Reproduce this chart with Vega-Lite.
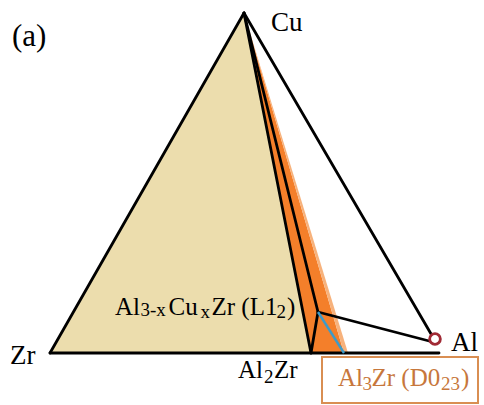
{
  "$schema": "https://vega.github.io/schema/vega-lite/v6.json",
  "width": 484,
  "height": 405,
  "autosize": {"type": "fit", "contains": "padding"},
  "padding": 0,
  "background": "white",
  "config": {"view": {"stroke": null}},
  "datasets": {
    "polys": [
      {"poly": "beige", "i": 0, "x": 50, "y": 52},
      {"poly": "beige", "i": 1, "x": 244, "y": 392},
      {"poly": "beige", "i": 2, "x": 311, "y": 52},
      {"poly": "orange", "i": 0, "x": 244, "y": 392},
      {"poly": "orange", "i": 1, "x": 311, "y": 52},
      {"poly": "orange", "i": 2, "x": 344, "y": 52},
      {"poly": "strip", "i": 0, "x": 244, "y": 392},
      {"poly": "strip", "i": 1, "x": 344, "y": 52},
      {"poly": "strip", "i": 2, "x": 348, "y": 52}
    ],
    "edges": [
      {"seg": "Zr-Cu", "i": 0, "x": 50, "y": 52},
      {"seg": "Zr-Cu", "i": 1, "x": 244, "y": 392},
      {"seg": "Cu-Al", "i": 0, "x": 244, "y": 392},
      {"seg": "Cu-Al", "i": 1, "x": 434, "y": 66},
      {"seg": "Zr-Al", "i": 0, "x": 50, "y": 52},
      {"seg": "Zr-Al", "i": 1, "x": 439, "y": 52},
      {"seg": "Cu-Al2Zr", "i": 0, "x": 244, "y": 392},
      {"seg": "Cu-Al2Zr", "i": 1, "x": 311, "y": 52},
      {"seg": "Cu-L12", "i": 0, "x": 244, "y": 392},
      {"seg": "Cu-L12", "i": 1, "x": 318, "y": 93},
      {"seg": "L12-Al2Zr", "i": 0, "x": 318, "y": 93},
      {"seg": "L12-Al2Zr", "i": 1, "x": 311, "y": 52},
      {"seg": "L12-Al", "i": 0, "x": 318, "y": 93},
      {"seg": "L12-Al", "i": 1, "x": 433, "y": 63}
    ],
    "tie": [
      {"seg": "L12-D023", "i": 0, "x": 318, "y": 93},
      {"seg": "L12-D023", "i": 1, "x": 344, "y": 52}
    ],
    "alpoint": [{"x": 435, "y": 66}],
    "box": [{"x": 322, "x2": 478, "y": 48, "y2": 2}],
    "vertex": [
      {"t": "Cu", "x": 271, "y": 374},
      {"t": "Zr", "x": 10, "y": 41},
      {"t": "Al", "x": 451, "y": 54}
    ],
    "panel": [{"t": "(a)", "x": 12, "y": 359}],
    "phaseMain": [
      {"t": "Al", "x": 115, "y": 90},
      {"t": "Cu", "x": 168.5, "y": 90},
      {"t": "Zr (L1", "x": 211.5, "y": 90},
      {"t": ")", "x": 287, "y": 90},
      {"t": "Al", "x": 238, "y": 27},
      {"t": "Zr", "x": 274, "y": 27}
    ],
    "phaseSub": [
      {"t": "3-x", "x": 140.5, "y": 89},
      {"t": "x", "x": 200.5, "y": 87},
      {"t": "2", "x": 276.5, "y": 87},
      {"t": "2", "x": 264, "y": 22}
    ],
    "boxMain": [
      {"t": "Al", "x": 338, "y": 19},
      {"t": "Zr (D0", "x": 371.5, "y": 19},
      {"t": ")", "x": 461, "y": 19}
    ],
    "boxSub": [
      {"t": "3", "x": 362.5, "y": 15},
      {"t": "23", "x": 441, "y": 15}
    ]
  },
  "encoding": {
    "x": {"field": "x", "type": "quantitative", "scale": {"domain": [0, 484], "nice": false, "zero": false}, "axis": null},
    "y": {"field": "y", "type": "quantitative", "scale": {"domain": [0, 405], "nice": false, "zero": false}, "axis": null}
  },
  "layer": [
    {
      "data": {"name": "polys"},
      "transform": [{"filter": "datum.poly === 'beige'"}],
      "mark": {"type": "line", "interpolate": "linear-closed", "fill": "#ECDDAD", "strokeWidth": 0},
      "encoding": {"order": {"field": "i"}}
    },
    {
      "data": {"name": "polys"},
      "transform": [{"filter": "datum.poly === 'orange'"}],
      "mark": {"type": "line", "interpolate": "linear-closed", "fill": "#F47F2A", "strokeWidth": 0},
      "encoding": {"order": {"field": "i"}}
    },
    {
      "data": {"name": "polys"},
      "transform": [{"filter": "datum.poly === 'strip'"}],
      "mark": {"type": "line", "interpolate": "linear-closed", "fill": "#F7B27C", "strokeWidth": 0},
      "encoding": {"order": {"field": "i"}}
    },
    {
      "data": {"name": "box"},
      "mark": {"type": "rect", "fill": "white", "stroke": "#D98E52", "strokeWidth": 2},
      "encoding": {"x2": {"field": "x2"}, "y2": {"field": "y2"}}
    },
    {
      "data": {"name": "edges"},
      "mark": {"type": "line", "color": "black", "strokeWidth": 2.8, "strokeCap": "round"},
      "encoding": {"detail": {"field": "seg"}, "order": {"field": "i"}}
    },
    {
      "data": {"name": "tie"},
      "mark": {"type": "line", "color": "#3D9BC9", "strokeWidth": 2.4},
      "encoding": {"detail": {"field": "seg"}, "order": {"field": "i"}}
    },
    {
      "data": {"name": "alpoint"},
      "mark": {"type": "point", "shape": "circle", "size": 115, "fill": "white", "filled": false, "stroke": "#A02A35", "strokeWidth": 2.8, "opacity": 1, "fillOpacity": 1}
    },
    {
      "data": {"name": "vertex"},
      "mark": {"type": "text", "font": "Liberation Serif", "fontSize": 27, "align": "left", "baseline": "alphabetic", "color": "black"},
      "encoding": {"text": {"field": "t"}}
    },
    {
      "data": {"name": "panel"},
      "mark": {"type": "text", "font": "Liberation Serif", "fontSize": 31, "align": "left", "baseline": "alphabetic", "color": "black"},
      "encoding": {"text": {"field": "t"}}
    },
    {
      "data": {"name": "phaseMain"},
      "mark": {"type": "text", "font": "Liberation Serif", "fontSize": 25, "align": "left", "baseline": "alphabetic", "color": "black"},
      "encoding": {"text": {"field": "t"}}
    },
    {
      "data": {"name": "phaseSub"},
      "mark": {"type": "text", "font": "Liberation Serif", "fontSize": 19, "align": "left", "baseline": "alphabetic", "color": "black"},
      "encoding": {"text": {"field": "t"}}
    },
    {
      "data": {"name": "boxMain"},
      "mark": {"type": "text", "font": "Liberation Serif", "fontSize": 25, "align": "left", "baseline": "alphabetic", "color": "#C7773C"},
      "encoding": {"text": {"field": "t"}}
    },
    {
      "data": {"name": "boxSub"},
      "mark": {"type": "text", "font": "Liberation Serif", "fontSize": 19, "align": "left", "baseline": "alphabetic", "color": "#C7773C"},
      "encoding": {"text": {"field": "t"}}
    }
  ]
}
